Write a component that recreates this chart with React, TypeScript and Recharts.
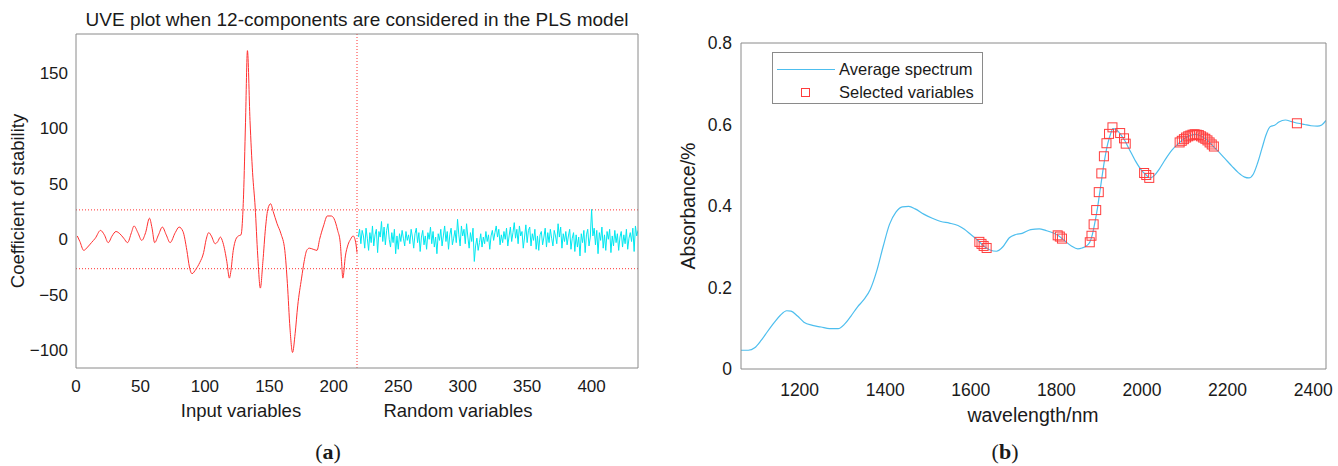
import React from 'react';
import { LineChart, Line, XAxis, YAxis, ReferenceLine, ComposedChart, Scatter } from 'recharts';

// (a) UVE stability coefficients, input variables 1..218
const inputIdx = [1, 3, 6, 9, 12, 15, 19, 22, 25, 28, 31, 34, 37, 40, 43, 45, 48, 51, 54, 57, 59, 61, 64, 67, 70, 73, 77, 80, 83, 86, 88, 90, 93, 96, 99, 101, 103, 105, 108, 110, 112, 114, 117, 119, 120, 122, 124, 126, 128, 130, 131.5, 133, 135, 137, 139, 141, 143, 145, 147, 149, 151, 153, 156, 159, 162, 164, 166, 168, 170, 172, 175, 177, 179, 181, 184, 187, 189, 192, 195, 198, 200, 203, 205, 206, 207, 209, 211, 213, 215, 217, 218];
const inputCoef = [3, -2, -10, -7, -3, 1, 8, 4, -3, 3, 7, 5, 1, -3, 6, 12, 6, -1, 6, 19, 10, -3, 4, 11, 4, -3, 6, 11, 7, -10, -25, -31, -27, -21, -12, 0, 6, 3, -4, -2, 2, -3, -20, -35, -30, -10, 0, 3, 4, 40, 105, 170, 107, 60, 29, -15, -44, -20, 10, 28, 32, 25, 14, 5, -10, -40, -80, -102, -85, -60, -35, -20, -10, -8, -9, -10, 0, 12, 21, 21, 19, 8, -3, -20, -35, -15, -5, 0, 3, -3, -12];

// random variables 219..436
const randomStart = 219;
const randomCoef = [
  2, 9, -4, 8, 3, -8, 10, 1, -10, 6, -3, 12, -6, 4, 9, -12, 7, 2, 16, -2,
  11, -5, 8, 14, 0, -7, 6, -3, 9, -13, 3, -9, 5, -2, 8, 1, -6, 7, -1, 4,
  -4, 9, 2, -8, 5, 10, -3, 6, -11, 2, 8, -5, 3, -9, 6, 0, 11, -4, 7, -7,
  2, -13, 5, -1, 9, -6, 3, 12, -2, 7, -9, 4, 10, -5, 1, 8, -3, 18, 4, -6,
  12, 3, 9, -4, 14, 2, -8, 6, -2, 10, -20, -6, 1, -10, -3, 5, -7, 2, -4, 7,
  -2, 4, -9, 3, 8, -1, 6, 12, 2, 9, -5, 4, -3, 7, 0, 10, -6, 3, 11, -2,
  6, 15, 1, 9, -4, 12, 3, 7, -8, 2, 13, -3, 8, 11, -6, 5, -1, 9, -9, 3,
  -10, 4, 7, -5, 2, 10, -7, 6, -3, 9, 1, -6, 8, 3, -4, 14, 2, 11, -8, 5,
  -2, 7, -5, 3, 9, -9, 1, 6, -11, 4, -7, 2, -15, 5, -3, 8, -12, 4, 9, -6,
  2, 27, 3, 10, -5, 8, -13, 6, -1, 11, -8, 4, -10, 7, 0, 9, -12, 3, -6, 8,
  -3, 5, -10, 2, 7, -7, 4, -4, 9, -9, 1, 6, -2, 10, -11, 12, 3, 8,
];
const cutoff = 26.5;
const splitAt = 218;
const uveXTicks = [0, 50, 100, 150, 200, 250, 300, 350, 400];
const uveYTicks = [-100, -50, 0, 50, 100, 150];

// (b) average spectrum and selected wavelengths
const specWave = [1063, 1080, 1095, 1110, 1125, 1140, 1155, 1170, 1180, 1195, 1210, 1230, 1250, 1270, 1290, 1305, 1320, 1335, 1350, 1365, 1380, 1395, 1410, 1425, 1440, 1455, 1470, 1490, 1510, 1530, 1550, 1570, 1585, 1600, 1615, 1630, 1645, 1660, 1675, 1690, 1705, 1720, 1740, 1760, 1775, 1790, 1805, 1820, 1835, 1850, 1860, 1870, 1878, 1884, 1890, 1896, 1902, 1908, 1914, 1920, 1926, 1932, 1940, 1950, 1960, 1970, 1985, 2000, 2010, 2018, 2028, 2040, 2055, 2070, 2085, 2100, 2115, 2125, 2135, 2150, 2165, 2180, 2195, 2210, 2225, 2240, 2250, 2260, 2270, 2280, 2290, 2300, 2310, 2320, 2335, 2350, 2365, 2380, 2395, 2410, 2420, 2430];
const specAbs = [0.046, 0.046, 0.052, 0.07, 0.092, 0.113, 0.132, 0.143, 0.142, 0.13, 0.115, 0.107, 0.103, 0.099, 0.099, 0.11, 0.13, 0.152, 0.17, 0.195, 0.24, 0.3, 0.355, 0.385, 0.398, 0.399, 0.393, 0.38, 0.37, 0.362, 0.358, 0.352, 0.343, 0.33, 0.317, 0.302, 0.292, 0.289, 0.3, 0.322, 0.33, 0.333, 0.342, 0.344, 0.34, 0.335, 0.327, 0.314, 0.302, 0.295, 0.297, 0.302, 0.311, 0.33, 0.36, 0.395, 0.438, 0.482, 0.522, 0.553, 0.575, 0.59, 0.587, 0.576, 0.56, 0.54, 0.51, 0.486, 0.476, 0.469, 0.474, 0.49, 0.515, 0.537, 0.553, 0.566, 0.574, 0.576, 0.573, 0.564, 0.548, 0.532, 0.515, 0.498, 0.482, 0.471, 0.469, 0.478, 0.505, 0.54, 0.575, 0.595, 0.598, 0.606, 0.611, 0.607, 0.603, 0.6, 0.597, 0.596, 0.599, 0.61];
const selWave = [1620, 1625, 1630, 1637, 1803, 1808, 1813, 1878, 1882, 1887, 1893, 1899, 1905, 1911, 1917, 1923, 1931, 1949, 1958, 1962, 2005, 2010, 2017, 2088, 2093, 2098, 2103, 2108, 2113, 2118, 2123, 2128, 2133, 2138, 2143, 2148, 2153, 2158, 2163, 2168, 2362];
const selAbs = [0.312, 0.307, 0.302, 0.297, 0.328, 0.325, 0.32, 0.311, 0.327, 0.355, 0.39, 0.434, 0.48, 0.522, 0.554, 0.577, 0.593, 0.579, 0.566, 0.553, 0.481, 0.476, 0.469, 0.556, 0.56, 0.564, 0.568, 0.571, 0.573, 0.575, 0.576, 0.575, 0.574, 0.571, 0.568, 0.565, 0.561, 0.556, 0.551, 0.546, 0.603];
const waveTicks = [1200, 1400, 1600, 1800, 2000, 2200, 2400];
const absTicks = [0, 0.2, 0.4, 0.6, 0.8];

const inputData = inputIdx.map((x, i) => ({ x, y: inputCoef[i] }));
const randomData = randomCoef.map((y, i) => ({ x: randomStart + i, y }));
const spectrum = specWave.map((w, i) => ({ w, a: specAbs[i] }));
const selected = selWave.map((w, i) => ({ w, a: selAbs[i] }));

const AXIS = '#8a8a8a';
const INK = '#1a1a1a';
const SANS = '"Liberation Sans", Arial, sans-serif';
const minus = (v: number) => String(v).replace('-', '\u2212');

const Txt = ({ x, y, size, rot, serif, children }: any) => (
  <div
    style={{
      position: 'absolute', left: x, top: y, whiteSpace: 'nowrap', lineHeight: 1,
      fontSize: size, color: INK, fontFamily: serif ? '"Liberation Serif", serif' : SANS,
      transform: `translate(-50%, -50%)${rot ? ' rotate(-90deg)' : ''}`,
    }}
  >
    {children}
  </div>
);

const HollowSquare = (props: any) => {
  const { cx, cy } = props;
  if (cx == null || cy == null) return null;
  return <rect x={cx - 4.5} y={cy - 4.5} width={9} height={9} fill="none" stroke="#ff3c3c" strokeWidth={1} />;
};

const UvePlot = () => (
  <div style={{ position: 'absolute', left: 0, top: 0, width: 660, height: 466 }}>
    <LineChart width={660} height={466} margin={{ top: 34, right: 22, bottom: 0, left: 0 }}>
      <XAxis dataKey="x" type="number" domain={[0, 436]} ticks={uveXTicks} interval={0} allowDataOverflow
        height={98} tickSize={0} tickMargin={12} tickLine={false} axisLine={{ stroke: AXIS }}
        tick={{ fontSize: 17, fill: INK, fontFamily: SANS }} />
      <XAxis xAxisId="bm" dataKey="x" type="number" domain={[0, 436]} ticks={uveXTicks} interval={0} allowDataOverflow
        mirror height={10} tick={false} tickSize={5} axisLine={false} tickLine={{ stroke: AXIS }} />
      <XAxis xAxisId="tm" orientation="top" dataKey="x" type="number" domain={[0, 436]} ticks={uveXTicks} interval={0} allowDataOverflow
        mirror height={10} tick={false} tickSize={5} axisLine={{ stroke: AXIS }} tickLine={{ stroke: AXIS }} />
      <YAxis type="number" domain={[-116, 185]} ticks={uveYTicks} interval={0} allowDataOverflow
        width={76} tickSize={0} tickMargin={8} tickLine={false} axisLine={{ stroke: AXIS }}
        tickFormatter={minus} tick={{ fontSize: 17, fill: INK, fontFamily: SANS }} />
      <YAxis yAxisId="lm" type="number" domain={[-116, 185]} ticks={uveYTicks} interval={0} allowDataOverflow
        mirror tick={false} tickSize={5} axisLine={false} tickLine={{ stroke: AXIS }} />
      <YAxis yAxisId="rm" orientation="right" type="number" domain={[-116, 185]} ticks={uveYTicks} interval={0} allowDataOverflow
        mirror tick={false} tickSize={5} axisLine={{ stroke: AXIS }} tickLine={{ stroke: AXIS }} />
      <ReferenceLine y={cutoff} stroke="#ff3030" strokeDasharray="1 2" />
      <ReferenceLine y={-cutoff} stroke="#ff3030" strokeDasharray="1 2" />
      <ReferenceLine x={splitAt} stroke="#ff3030" strokeDasharray="1 2" />
      <Line data={inputData} dataKey="y" type="monotone" stroke="#ff3030" strokeWidth={1} dot={false} isAnimationActive={false} />
      <Line data={randomData} dataKey="y" type="linear" stroke="#00e8f0" strokeWidth={1} dot={false} isAnimationActive={false} />
    </LineChart>
    <Txt x={357} y={19} size={19}>UVE plot when 12-components are considered in the PLS model</Txt>
    <Txt x={18} y={201} size={18.5} rot>Coefficient of stability</Txt>
    <Txt x={241} y={411} size={18.5}>Input variables</Txt>
    <Txt x={458} y={411} size={18.5}>Random variables</Txt>
    <Txt x={328} y={452} size={22} serif>(<b>a</b>)</Txt>
  </div>
);

const SpectrumPlot = () => (
  <div style={{ position: 'absolute', left: 660, top: 0, width: 678, height: 466 }}>
    <ComposedChart width={678} height={466} margin={{ top: 43, right: 12, bottom: 0, left: 0 }}>
      <XAxis dataKey="w" type="number" domain={[1063, 2430]} ticks={waveTicks} interval={0} allowDataOverflow
        height={97} tickSize={0} tickMargin={15} tickLine={false} axisLine={{ stroke: AXIS }}
        tick={{ fontSize: 17.5, fill: INK, fontFamily: SANS }} />
      <XAxis xAxisId="bm" dataKey="w" type="number" domain={[1063, 2430]} ticks={waveTicks} interval={0} allowDataOverflow
        mirror height={10} tick={false} tickSize={5} axisLine={false} tickLine={{ stroke: AXIS }} />
      <XAxis xAxisId="tm" orientation="top" dataKey="w" type="number" domain={[1063, 2430]} ticks={waveTicks} interval={0} allowDataOverflow
        mirror height={10} tick={false} tickSize={5} axisLine={{ stroke: AXIS }} tickLine={{ stroke: AXIS }} />
      <YAxis type="number" domain={[0, 0.8]} ticks={absTicks} interval={0} allowDataOverflow
        width={81} tickSize={0} tickMargin={9} tickLine={false} axisLine={{ stroke: AXIS }}
        tick={{ fontSize: 17.5, fill: INK, fontFamily: SANS }} />
      <YAxis yAxisId="lm" type="number" domain={[0, 0.8]} ticks={absTicks} interval={0} allowDataOverflow
        mirror tick={false} tickSize={5} axisLine={false} tickLine={{ stroke: AXIS }} />
      <YAxis yAxisId="rm" orientation="right" type="number" domain={[0, 0.8]} ticks={absTicks} interval={0} allowDataOverflow
        mirror tick={false} tickSize={5} axisLine={{ stroke: AXIS }} tickLine={{ stroke: AXIS }} />
      <Line data={spectrum} dataKey="a" type="monotone" stroke="#4dbeee" strokeWidth={1.2} dot={false} isAnimationActive={false} />
      <Scatter data={selected} dataKey="a" shape={<HollowSquare />} isAnimationActive={false} />
    </ComposedChart>
    <div style={{ position: 'absolute', left: 112, top: 52, width: 211, height: 52, border: `1px solid ${AXIS}`, background: '#fff', boxSizing: 'border-box' }}>
      <div style={{ position: 'absolute', left: 4, top: 16, width: 58, height: 0, borderTop: '1.2px solid #4dbeee' }} />
      <div style={{ position: 'absolute', left: 28, top: 35, width: 9, height: 9, border: '1px solid #ff3c3c', boxSizing: 'border-box' }} />
      <div style={{ position: 'absolute', left: 66, top: 7, fontSize: 16.5, lineHeight: '19px', color: INK, fontFamily: SANS, whiteSpace: 'nowrap' }}>Average spectrum</div>
      <div style={{ position: 'absolute', left: 66, top: 30, fontSize: 16.5, lineHeight: '19px', color: INK, fontFamily: SANS, whiteSpace: 'nowrap' }}>Selected variables</div>
    </div>
    <Txt x={29} y={206} size={19.5} rot>Absorbance/%</Txt>
    <Txt x={373} y={416} size={19.5}>wavelength/nm</Txt>
    <Txt x={345} y={452} size={22} serif>(<b>b</b>)</Txt>
  </div>
);

export default function App() {
  return (
    <div style={{ position: 'absolute', left: 0, top: 0, width: 1338, height: 466, background: '#fff', overflow: 'hidden' }}>
      <UvePlot />
      <SpectrumPlot />
    </div>
  );
}
